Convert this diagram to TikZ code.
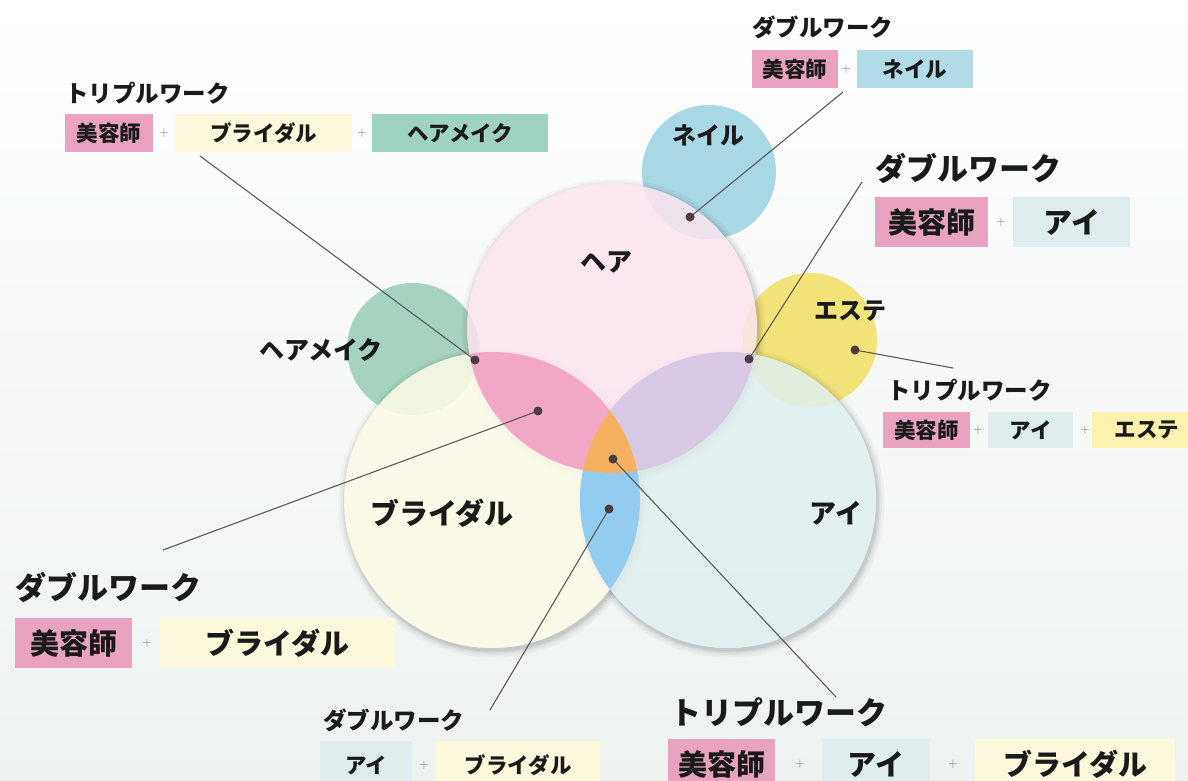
\documentclass[tikz,border=0pt]{standalone}
\usepackage{fontspec}
\newfontfamily\jp{Noto Sans CJK JP}
\pgfdeclarelayer{front}
\pgfsetlayers{main,front}
\definecolor{txt}{HTML}{1A1A1A}
\definecolor{bgb}{HTML}{EDF2F0}
\definecolor{hairc}{HTML}{FBE4EE}
\definecolor{bric}{HTML}{FDFBE8}
\definecolor{eyec}{HTML}{E0EFF0}
\definecolor{nailc}{HTML}{A8D8E3}
\definecolor{hmc}{HTML}{A5D3BF}
\definecolor{estc}{HTML}{F3E47A}
\definecolor{pinkl}{HTML}{F2A7C7}
\definecolor{purl}{HTML}{D7C8E3}
\definecolor{orl}{HTML}{F5B160}
\definecolor{bluel}{HTML}{92CCF1}
\definecolor{pinkb}{HTML}{E9A2BF}
\definecolor{creamb}{HTML}{FCF8DC}
\definecolor{greenb}{HTML}{9FD3C1}
\definecolor{nailb}{HTML}{B0DCE8}
\definecolor{eyeb}{HTML}{E0EDEF}
\definecolor{yelb}{HTML}{FAF2AE}
\definecolor{dotc}{HTML}{4A3C40}
\definecolor{linec}{HTML}{5A5A5A}
\definecolor{plusc}{HTML}{7A7A7A}
\newcommand{\softsh}[3]{\foreach \dd/\oo in {7/0.03,4.5/0.04,2.5/0.05,1/0.06}{\fill[black,opacity=\oo,even odd rule] (#1+1.5,#2+2.5) circle[radius=#3pt+\dd pt] (#1,#2) circle[radius=#3pt];}}
\def\pHair{(612,328) circle[radius=145pt]}
\def\pBri{(492,500) circle[radius=148pt]}
\def\pEye{(728,500) circle[radius=148pt]}
\begin{document}
\begin{tikzpicture}[x=1pt,y=-1pt,
  ttl/.style={font=\jp\bfseries\fontsize{23.5}{24}\selectfont, anchor=west, inner sep=0pt, text=txt},
  ttlb/.style={font=\jp\bfseries\fontsize{31}{32}\selectfont, anchor=west, inner sep=0pt, text=txt},
  bx/.style={font=\jp\bfseries\fontsize{21.5}{22}\selectfont, inner sep=0pt, minimum height=38pt, text=txt, anchor=west},
  bxb/.style={font=\jp\bfseries\fontsize{29}{30}\selectfont, inner sep=0pt, minimum height=50pt, text=txt, anchor=west},
  pl/.style={font=\fontsize{13}{13}\selectfont, text=plusc, inner sep=0pt},
  clab/.style={font=\jp\bfseries\fontsize{#1}{#1}\selectfont, text=txt, inner sep=0pt},
  dotn/.style={circle, fill=dotc, inner sep=0pt, minimum size=9pt},
  conn/.style={draw=linec, line width=1.1pt}
]
\useasboundingbox (0,0) rectangle (1188,780);
\fill[top color=white, bottom color=bgb] (0,0) rectangle (1188,780);

% small circles
\fill[nailc] (709,172) circle[radius=67pt];
\fill[hmc] (413,349) circle[radius=66pt];
\fill[estc] (810,340) circle[radius=67pt];

% soft shadows round the big circles
\softsh{492}{500}{148}
\softsh{728}{500}{148}
\softsh{612}{328}{145}

% big circles
\fill[bric, fill opacity=0.85] \pBri;
\fill[eyec, fill opacity=0.85] \pEye;
\fill[hairc, fill opacity=0.85] \pHair;

% overlap regions
\begin{scope}\clip \pBri; \fill[bluel] \pEye; \end{scope}
\begin{scope}\clip \pHair; \fill[pinkl] \pBri; \end{scope}
\begin{scope}\clip \pHair; \fill[purl] \pEye; \end{scope}
\begin{scope}\clip \pHair; \clip \pBri; \fill[orl] \pEye; \end{scope}

% circle labels
\node[clab=26] (lHair) at (606,262) {ヘア};
\node[clab=24] (lNail) at (708,135) {ネイル};
\node[clab=25] (lHM) at (321,350) {ヘアメイク};
\node[clab=24] (lEst) at (850,311) {エステ};
\node[clab=29] (lBri) at (442,513) {ブライダル};
\node[clab=27] (lEye) at (836,513) {アイ};

% dots
\begin{pgfonlayer}{front}
\node[dotn] (n1) at (475,360) {};
\node[dotn] (n2) at (690,217) {};
\node[dotn] (n3) at (749,359) {};
\node[dotn] (n4) at (855,350) {};
\node[dotn] (n5) at (538,411) {};
\node[dotn] (n6) at (609,509) {};
\node[dotn] (n7) at (613,459) {};
\end{pgfonlayer}

% free ends of connectors
\coordinate (e1) at (200,156);
\coordinate (e2) at (843,92);
\coordinate (e3) at (862,182);
\coordinate (e4) at (953,368);
\coordinate (e5) at (163,550);
\coordinate (e6) at (490,710);
\coordinate (e7) at (836,697);

\draw[conn] (n1.center) -- (e1);
\draw[conn] (n2.center) -- (e2);
\draw[conn] (n3.center) -- (e3);
\draw[conn] (n4.center) -- (e4);
\draw[conn] (n5.center) -- (e5);
\draw[conn] (n6.center) -- (e6);
\draw[conn] (n7.center) -- (e7);

% Group A: top-left triple
\node[ttl] (tA) at (65,93) {トリプルワーク};
\node[bx, fill=pinkb, minimum width=88pt] (A1) at (65,133) {美容師};
\node[pl] (pA1) at (164,133) {+};
\node[bx, fill=creamb, minimum width=177pt] (A2) at (175,133) {ブライダル};
\node[pl] (pA2) at (362,133) {+};
\node[bx, fill=greenb, minimum width=176pt] (A3) at (372,133) {ヘアメイク};

% Group B: nail double
\node[ttl] (tB) at (752,27) {ダブルワーク};
\node[bx, fill=pinkb, minimum width=86pt] (B1) at (752,69) {美容師};
\node[pl] (pB1) at (846,69) {+};
\node[bx, fill=nailb, minimum width=116pt] (B2) at (857,69) {ネイル};

% Group C: eye double
\node[ttlb] (tC) at (875,168) {ダブルワーク};
\node[bxb, fill=pinkb, minimum width=113pt] (C1) at (875,222) {美容師};
\node[pl] (pC1) at (1001,222) {+};
\node[bxb, fill=eyeb, minimum width=117pt] (C2) at (1013,222) {アイ};

% Group D: este triple
\node[ttl] (tD) at (887,390) {トリプルワーク};
\node[bx, fill=pinkb, minimum width=87pt, minimum height=36pt] (D1) at (883,430) {美容師};
\node[pl] (pD1) at (978,430) {+};
\node[bx, fill=eyeb, minimum width=85pt, minimum height=36pt] (D2) at (988,430) {アイ};
\node[pl] (pD2) at (1085,430) {+};
\node[bx, fill=yelb, minimum width=110pt, minimum height=36pt] (D3) at (1092,430) {エステ};

% Group E: bridal double
\node[ttlb] (tE) at (15,587) {ダブルワーク};
\node[bxb, fill=pinkb, minimum width=117pt] (E1) at (15,643) {美容師};
\node[pl] (pE1) at (147,643) {+};
\node[bxb, fill=creamb, minimum width=235pt] (E2) at (160,643) {ブライダル};

% Group F: eye + bridal double
\node[ttl] (tF) at (323,720) {ダブルワーク};
\node[bx, fill=eyeb, minimum width=92pt, minimum height=48pt] (F1) at (320,765) {アイ};
\node[pl] (pF1) at (424,765) {+};
\node[bx, fill=creamb, minimum width=164pt, minimum height=48pt] (F2) at (436,765) {ブライダル};

% Group G: main triple
\node[ttlb] (tG) at (670,712) {トリプルワーク};
\node[bxb, fill=pinkb, minimum width=107pt] (G1) at (668,764) {美容師};
\node[pl] (pG1) at (800,764) {+};
\node[bxb, fill=eyeb, minimum width=108pt] (G2) at (822,764) {アイ};
\node[pl] (pG2) at (953,764) {+};
\node[bxb, fill=creamb, minimum width=200pt] (G3) at (975,764) {ブライダル};
\end{tikzpicture}
\end{document}
